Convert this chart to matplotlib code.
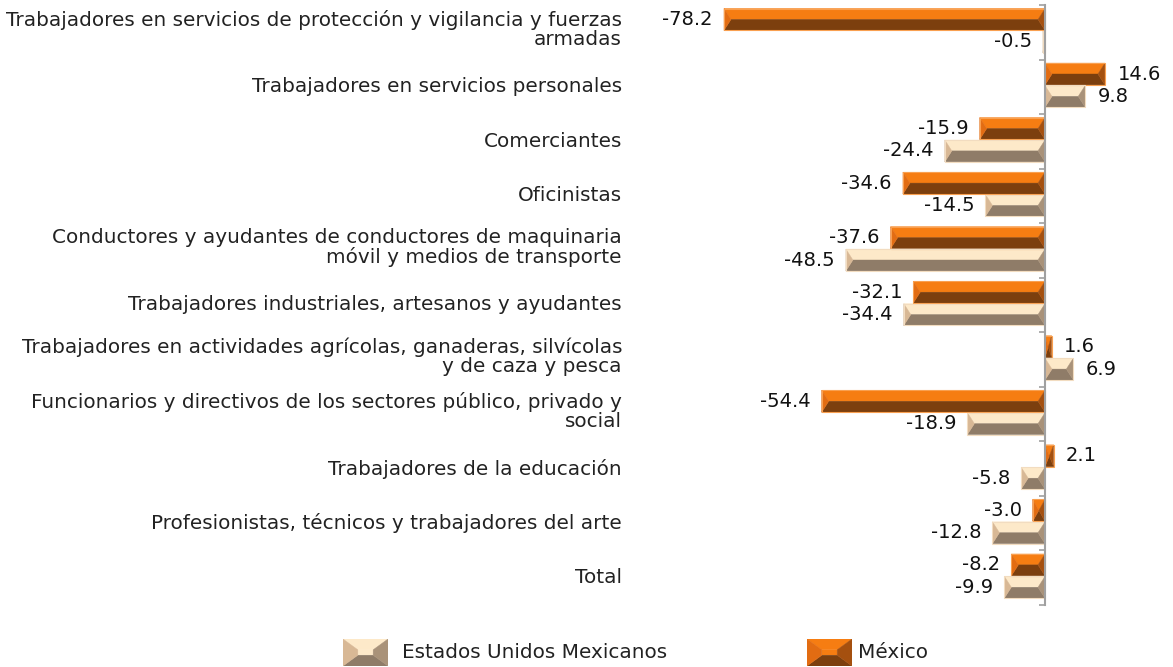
import matplotlib
matplotlib.use("Agg")
import matplotlib.pyplot as plt
from matplotlib.patches import Polygon
from matplotlib import transforms

categories = [
    "Trabajadores en servicios de protección y vigilancia y fuerzas\narmadas",
    "Trabajadores en servicios personales",
    "Comerciantes",
    "Oficinistas",
    "Conductores y ayudantes de conductores de maquinaria\nmóvil y medios de transporte",
    "Trabajadores industriales, artesanos y ayudantes",
    "Trabajadores en actividades agrícolas, ganaderas, silvícolas\ny de caza y pesca",
    "Funcionarios y directivos de los sectores público, privado y\nsocial",
    "Trabajadores de la educación",
    "Profesionistas, técnicos y trabajadores del arte",
    "Total",
]
mexico = [-78.2, 14.6, -15.9, -34.6, -37.6, -32.1, 1.6, -54.4, 2.1, -3.0, -8.2]
eum = [-0.5, 9.8, -24.4, -14.5, -48.5, -34.4, 6.9, -18.9, -5.8, -12.8, -9.9]
series_names = ["Estados Unidos Mexicanos", "México"]

plt.rcParams['font.family'] = ['DejaVu Sans']
FS = 14.4
FS_VAL = 14

W, H = 1173, 667
fig = plt.figure(figsize=(W / 100, H / 100), dpi=100)
fig.patch.set_facecolor("white")

ax_left_px, ax_right_px = 700, 1173
ax_top_px, ax_bot_px = 5, 605
ax = fig.add_axes([ax_left_px / W, 1 - ax_bot_px / H,
                   (ax_right_px - ax_left_px) / W, (ax_bot_px - ax_top_px) / H])
px_per_unit = (1045 - 724) / 78.2
xmin = -(1045 - ax_left_px) / px_per_unit
xmax = (ax_right_px - 1045) / px_per_unit
ax.set_xlim(xmin, xmax)
n = len(categories)
ax.set_ylim(n, 0)
ax.set_facecolor("none")

ORANGE = dict(top="#F67D12", bot="#7C3F0E", left="#E26C12", right="#A5500F", edge="#F9A050")
BEIGE = dict(top="#FDE9C9", bot="#8F7C68", left="#D8B895", right="#A99279", edge="#F2DCC0")

bevel_units = 7 / px_per_unit
BAR_H = 0.4


def bevel_bar(ax, y, v, h, col):
    x0, x1 = min(0, v), max(0, v)
    yt, yb = y - h / 2, y + h / 2
    ym = y
    b = min(bevel_units, (x1 - x0) / 2)
    polys = [
        ([(x0, yt), (x1, yt), (x1 - b, ym), (x0 + b, ym)], col["top"]),
        ([(x0 + b, ym), (x1 - b, ym), (x1, yb), (x0, yb)], col["bot"]),
        ([(x0, yt), (x0 + b, ym), (x0, yb)], col["left"]),
        ([(x1, yt), (x1, yb), (x1 - b, ym)], col["right"]),
    ]
    for pts, c in polys:
        ax.add_patch(Polygon(pts, closed=True, facecolor=c, edgecolor=c,
                             linewidth=0.3, zorder=2))
    ax.add_patch(Polygon([(x0, yt), (x1, yt), (x1, yb), (x0, yb)], closed=True,
                         facecolor="none", edgecolor=col["edge"], linewidth=0.8, zorder=2.5))


label_tr = transforms.blended_transform_factory(fig.transFigure, ax.transData)
for i, (cat, m, e) in enumerate(zip(categories, mexico, eum)):
    yo = i + 0.265
    ye = i + 0.675
    bevel_bar(ax, yo, m, BAR_H, ORANGE)
    bevel_bar(ax, ye, e, BAR_H, BEIGE)
    ly = i + 0.5 - (0.05 if "\n" in cat else 0.0)
    ax.text(622 / W, ly, cat, transform=label_tr, ha="right", va="center",
            fontsize=FS, linespacing=1.02, color="#222222")
    for v, y in ((m, yo), (e, ye)):
        if v < 0:
            ax.annotate(f"{v:.1f}", (v, y), xytext=(-8, 0), textcoords="offset points",
                        ha="right", va="center", fontsize=FS_VAL, color="#111111")
        else:
            ax.annotate(f"{v:.1f}", (v, y), xytext=(9, 0), textcoords="offset points",
                        ha="left", va="center", fontsize=FS_VAL, color="#111111")

for s in ["top", "right", "bottom"]:
    ax.spines[s].set_visible(False)
ax.spines["left"].set_position(("data", 0))
ax.spines["left"].set_color("#A0A0A0")
ax.spines["left"].set_linewidth(1.5)
ax.spines["left"].set_zorder(3)
ax.set_xticks([])
ax.set_yticks(range(n + 1))
ax.set_yticklabels([])
ax.tick_params(axis="y", direction="out", length=4, color="#A0A0A0", width=1.2)


# Legend (manual, beveled swatches)
def legend_swatch(x0, y0, w, h, col):
    sax = fig.add_axes([x0 / W, 1 - (y0 + h) / H, w / W, h / H])
    sax.set_xlim(0, 1)
    sax.set_ylim(1, 0)
    sax.axis("off")
    bx, by = 0.33, 0.4
    polys = [
        ([(0, 0), (1, 0), (1 - bx, by), (bx, by)], col["top"]),
        ([(bx, by), (1 - bx, by), (1 - bx, 1 - by), (bx, 1 - by)], col["top"]),
        ([(bx, 1 - by), (1 - bx, 1 - by), (1, 1), (0, 1)], col["bot"]),
        ([(0, 0), (bx, by), (bx, 1 - by), (0, 1)], col["left"]),
        ([(1, 0), (1, 1), (1 - bx, 1 - by), (1 - bx, by)], col["right"]),
    ]
    for pts, c in polys:
        sax.add_patch(Polygon(pts, closed=True, facecolor=c, edgecolor=c, linewidth=0.3))


legend_swatch(343, 639, 45, 27, BEIGE)
fig.text(402 / W, 1 - 653 / H, series_names[0], ha="left", va="center", fontsize=FS,
         color="#222222")
legend_swatch(807, 639, 45, 27, ORANGE)
fig.text(858 / W, 1 - 653 / H, series_names[1], ha="left", va="center", fontsize=FS,
         color="#222222")

fig.savefig("out.png", dpi=100, facecolor="white")
